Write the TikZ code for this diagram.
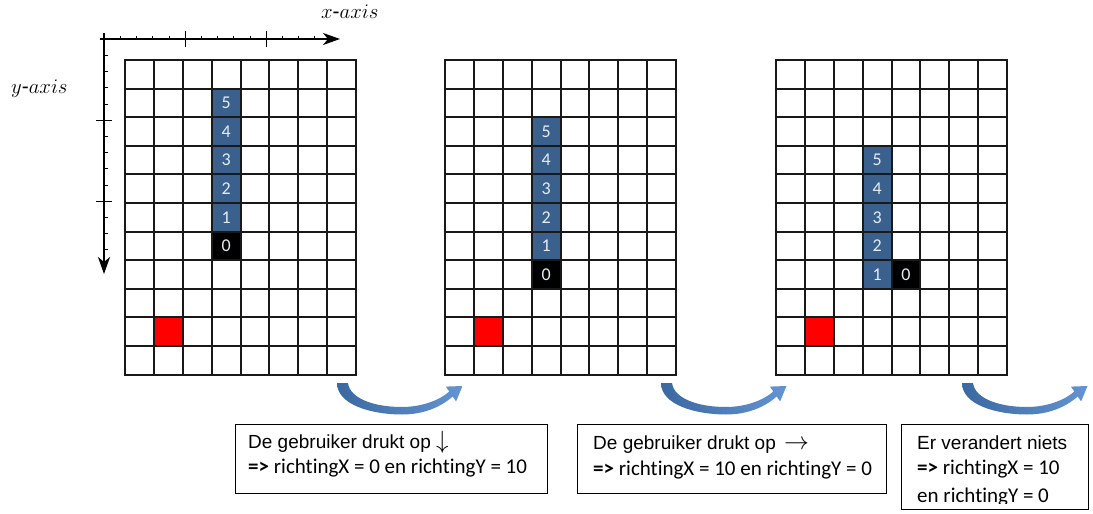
\documentclass[tikz,border=0pt]{standalone}
\usepackage{fontspec}
\setmainfont{Liberation Sans}
\newfontfamily\calfont[RawFeature=-liga]{Carlito}
\usetikzlibrary{arrows.meta}
\definecolor{cellblue}{RGB}{58,96,142}
\definecolor{digitcol}{RGB}{228,236,246}
\definecolor{arrowdark}{RGB}{58,104,160}
\definecolor{arrowlight}{RGB}{100,148,210}
\definecolor{gridline}{RGB}{25,25,25}
\tikzset{
  gridl/.style={draw=gridline, line width=1.6pt},
  axisl/.style={line width=1.9pt},
  tickl/.style={line width=0.6pt},
  majortick/.style={line width=0.9pt},
  num/.style={font=\calfont\fontsize{18}{18}\selectfont, text=digitcol, inner sep=0pt},
  textbox/.style={draw, line width=1pt, inner sep=0pt, anchor=north west},
  lineA/.style={anchor=base west, inner sep=0pt, font=\fontsize{19}{22}\selectfont},
  lineB/.style={anchor=base west, inner sep=0pt, font=\calfont\fontsize{21}{24}\selectfont},
  axlabel/.style={anchor=base west, inner sep=0pt, font=\fontsize{21}{24}\selectfont},
  bluearrow/.style={left color=arrowdark, right color=arrowlight, draw=none},
}
% cell corners snapped to whole pixels
\newcommand\mycell[4]{\fill[#4] ({#1+round(#2*28.9)},{60+round(#3*28.6)}) rectangle ({#1+round((#2+1)*28.9)},{60+round((#3+1)*28.6)});}
\newcommand\curvedarrow{%
  \shade[bluearrow] (337,383) .. controls (337,405) and (372,414.5) .. (402,414.5)
    .. controls (425,414.5) and (442,406) .. (452.7,396.5)
    -- (456.1,401.4) -- (462.5,386.0) -- (445.9,386.6) -- (449.3,391.5)
    .. controls (440,400) and (422,407) .. (402,407)
    .. controls (375,407) and (350,399) .. (348,383) -- cycle;}
\begin{document}
\begin{tikzpicture}[x=1pt,y=-1pt]
\useasboundingbox (0,0) rectangle (1093,514);
\fill[white] (0,0) rectangle (1093,514);

% ---------- axes ----------
\coordinate (xs) at (100,39);
\coordinate (xe) at (340,39);
\coordinate (ys) at (104,33);
\coordinate (ye) at (104,274);
\draw[axisl,-{Stealth[length=17pt,width=12pt,inset=5pt]}] (xs) -- (xe);
\draw[axisl,-{Stealth[length=17pt,width=12pt,inset=5pt]}] (ys) -- (ye);
\foreach \k in {1,2,3,4,6,7,8,9,11,12,13} {
  \draw[tickl] ({104+\k*16.2},39) -- ({104+\k*16.2},35.5);
  \draw[tickl] (104,{39+\k*16.2}) -- (107.5,{39+\k*16.2});
}
\foreach \k in {1,2} {
  \draw[majortick] ({104+\k*81},31) -- ({104+\k*81},47);
  \draw[majortick] (96,{39+\k*81}) -- (112,{39+\k*81});
}
\node[axlabel] (xlab) at (321,19) {$x$-$axis$};
\node[axlabel] (ylab) at (11,93) {$y$-$axis$};

% ---------- coloured cells ----------
% grid 1
\mycell{125}{3}{1}{cellblue}\mycell{125}{3}{2}{cellblue}\mycell{125}{3}{3}{cellblue}
\mycell{125}{3}{4}{cellblue}\mycell{125}{3}{5}{cellblue}\mycell{125}{3}{6}{black}
\mycell{125}{1}{9}{red}
% grid 2
\mycell{445}{3}{2}{cellblue}\mycell{445}{3}{3}{cellblue}\mycell{445}{3}{4}{cellblue}
\mycell{445}{3}{5}{cellblue}\mycell{445}{3}{6}{cellblue}\mycell{445}{3}{7}{black}
\mycell{445}{1}{9}{red}
% grid 3
\mycell{776}{3}{3}{cellblue}\mycell{776}{3}{4}{cellblue}\mycell{776}{3}{5}{cellblue}
\mycell{776}{3}{6}{cellblue}\mycell{776}{3}{7}{cellblue}\mycell{776}{4}{7}{black}
\mycell{776}{1}{9}{red}

% ---------- grid lines ----------
\foreach \gx in {125,445,776} {
  \foreach \i in {0,...,8}
    \draw[gridl] ({\gx+round(\i*28.9)},60) -- ({\gx+round(\i*28.9)},375);
  \foreach \j in {0,...,11}
    \draw[gridl] ({\gx-1.5},{60+round(\j*28.6)}) -- ({\gx+231.8},{60+round(\j*28.6)});
}

% ---------- digits ----------
\foreach \r/\d in {1/5,2/4,3/3,4/2,5/1,6/0}
  \node[num] (a\d) at ({125+3.5*28.9},{60+(\r+0.5)*28.6}) {\d};
\foreach \r/\d in {2/5,3/4,4/3,5/2,6/1,7/0}
  \node[num] (b\d) at ({445+3.5*28.9},{60+(\r+0.5)*28.6}) {\d};
\foreach \r/\d in {3/5,4/4,5/3,6/2,7/1}
  \node[num] (c\d) at ({776+3.5*28.9},{60+(\r+0.5)*28.6}) {\d};
\node[num] (c0) at ({776+4.5*28.9},{60+7.5*28.6}) {0};

% ---------- curved arrows ----------
\curvedarrow
\begin{scope}[xshift=324pt]\curvedarrow\end{scope}
\begin{scope}[xshift=625pt]\curvedarrow\end{scope}

% ---------- text boxes ----------
\node[textbox, minimum width=312pt, minimum height=69pt] (box1) at (235,424) {};
\node[lineA] (t1a) at (248,448) {De gebruiker drukt op {\fontsize{27}{27}\selectfont$\downarrow$}};
\node[lineB] (t1b) at (248,473) {\textbf{=>} richtingX = 0 en richtingY = 10};

\node[textbox, minimum width=309pt, minimum height=69pt] (box2) at (577,424) {};
\node[lineA] (t2a) at (593,449) {De gebruiker drukt op \hspace{3pt}{\fontsize{24}{24}\selectfont$\rightarrow$}};
\node[lineB] (t2b) at (593,475) {\textbf{=>} richtingX = 10 en richtingY = 0};

\node[textbox, minimum width=187pt, minimum height=85pt] (box3) at (901,424) {};
\begin{scope}
\clip (902,425) rectangle (1087,503);
\node[lineA] (t3a) at (917,449) {Er verandert niets};
\node[lineB] (t3b) at (917,474) {\textbf{=>} richtingX = 10};
\node[lineB] (t3c) at (917,502) {en richtingY = 0};
\end{scope}
\end{tikzpicture}
\end{document}
